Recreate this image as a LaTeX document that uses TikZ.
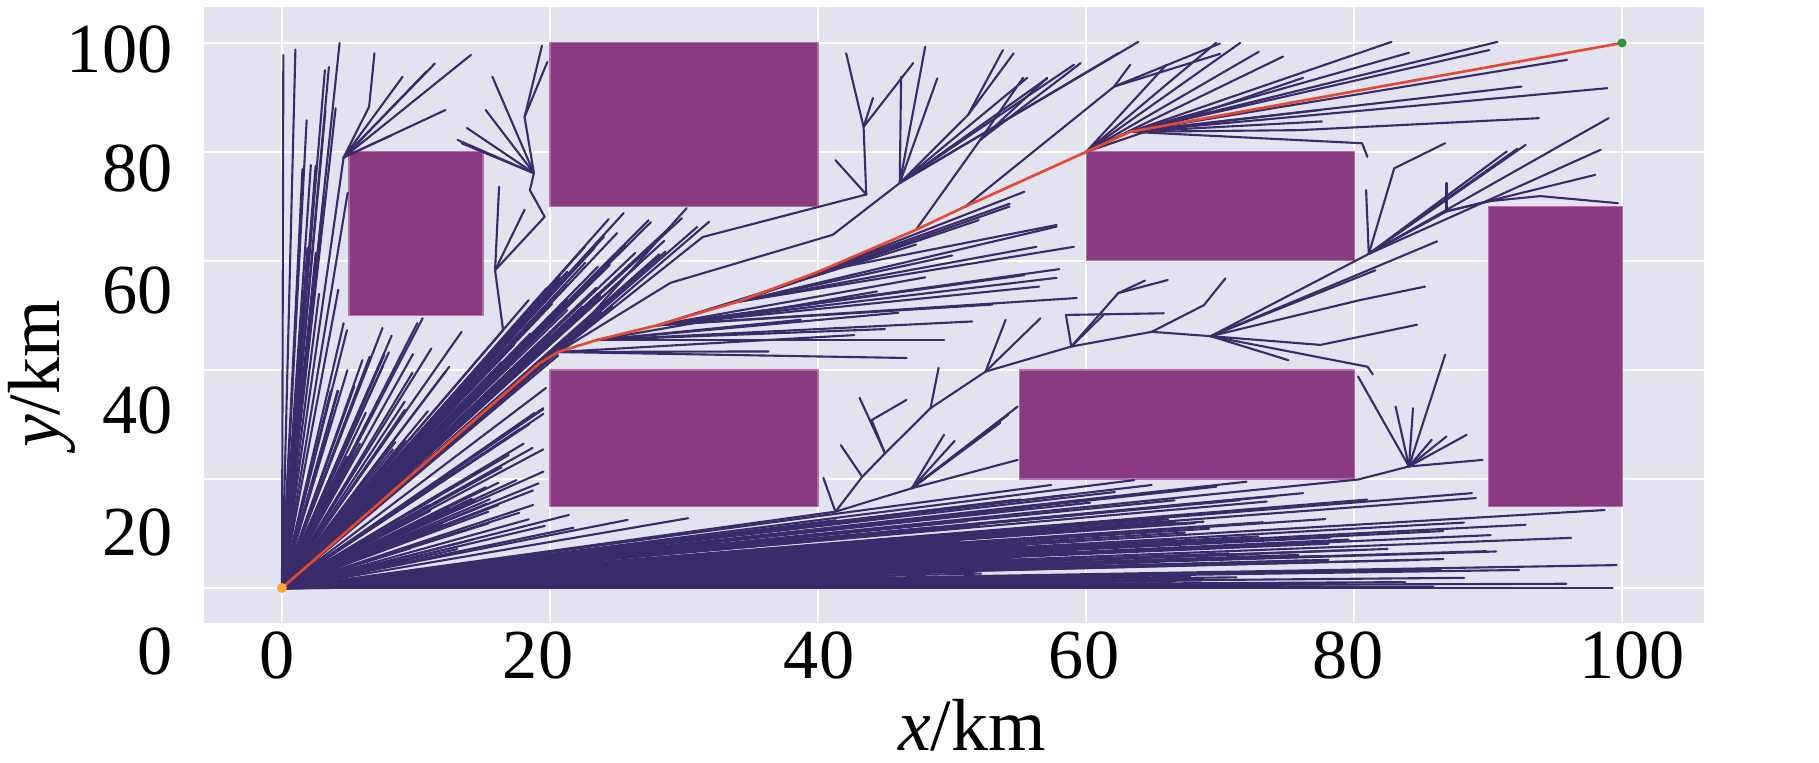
\documentclass[tikz,border=0pt]{standalone}
\usepackage{fontspec}
\setmainfont{Liberation Serif}
\definecolor{plotbg}{RGB}{226,227,238}
\definecolor{obstacle}{RGB}{138,56,128}
\definecolor{obstedge}{RGB}{176,112,168}
\definecolor{treeline}{RGB}{58,44,106}
\definecolor{pathred}{RGB}{228,74,50}
\definecolor{startor}{RGB}{250,165,60}
\definecolor{goalgr}{RGB}{50,150,60}
\begin{document}
\begin{tikzpicture}[line join=round, line cap=round,
	twig/.style={treeline, line width=0.6pt},
	route/.style={pathred, line width=0.75pt},
	grid line/.style={white, line width=0.75pt},
	block/.style={fill=obstacle, draw=obstedge, line width=0.3pt},
	ticklab/.style={font=\fontsize{20}{24}\selectfont, inner sep=0pt},
	axlabel/.style={font=\fontsize{21}{25}\selectfont, inner sep=0pt}]
	\useasboundingbox (0,0) rectangle (18.19,7.62);
	\begin{scope}[shift={(2.82cm,1.74cm)}, x=0.134cm, y=0.0545cm]
		\fill[plotbg] (-5.82,-6.42) rectangle (106.1,106.6);
		\foreach \g in {0,20,...,100}{
			\draw[grid line] (\g,-6.42) -- (\g,106.6);
			\draw[grid line] (-5.82,\g) -- (106.1,\g);
		}
		% obstacles
		\draw[block] (5,50) rectangle (15,80);
		\draw[block] (20,70) rectangle (40,100);
		\draw[block] (60,60) rectangle (80,80);
		\draw[block] (90,15) rectangle (100,70);
		\draw[block] (20,15) rectangle (40,40);
		\draw[block] (55,20) rectangle (80,40);
		\coordinate (root) at (0,0);
		\coordinate (goal) at (100,100);
		% random tree around the start
		\pgfmathsetseed{2024}
		\foreach \i in {1,...,140}{
			\pgfmathsetmacro\fu{rnd}
			\pgfmathsetmacro\fv{rnd}
			\pgfmathsetmacro\fr{0.30*(\fu+0.001)^1.5+0.001}
			\pgfmathsetmacro\fl{min(30+68*\fv*(1-0.3*\fu),19.5/\fr)}
			\pgfmathsetmacro\fl{\fl>89 ? max(89,min(\fl,14.8/\fr)) : \fl}
			\draw[twig] (root) -- (\fl,\fr*\fl);
		}
		\foreach \i in {1,...,40}{
			\pgfmathsetmacro\fu{rnd}
			\pgfmathsetmacro\fv{rnd}
			\pgfmathsetmacro\fr{0.42+1.4*\fu}
			\pgfmathsetmacro\fx{min(9+13*\fv,max(19.5,14.8/\fr))}
			\draw[twig] (root) -- (\fx,\fr*\fx);
		}
		\foreach \i in {1,...,60}{
			\pgfmathsetmacro\fu{rnd}
			\pgfmathsetmacro\fv{rnd}
			\pgfmathsetmacro\fr{2.05+0.75*(\fu+0.001)^0.7}
			\pgfmathsetmacro\fy{40+28*\fv}
			\draw[twig] (root) -- (\fy/\fr,\fy);
		}
		\foreach \i in {1,...,35}{
			\pgfmathsetmacro\fu{rnd}
			\pgfmathsetmacro\fv{rnd}
			\draw[twig] (root) -- (2.5+10*\fu,22+27*\fv);
		}
		\foreach \i in {1,...,9}{
			\pgfmathsetmacro\fu{rnd}
			\pgfmathsetmacro\fv{rnd}
			\draw[twig] (root) -- (1.5+3.2*\fu,52+40*\fv);
		}
		\foreach \a/\b in {0.1/97.8, 1.0/98.8, 3.2/95, 3.5/95.6, 4.3/100, 4.0/88, 4.9/72.5, 4.6/48.6, 4.2/54.7, 6.0/41.8, 7.5/47.7, 10.5/49.5, 10.1/48.6, 13.4/47, 12.2/39.7, 19.7/36.7, 18.7/25.7, 17.5/19.8, 17.7/13.8, 21.4/13.4, 15.4/14, 25.8/12.5, 30.3/12.8, 9/5.1, 25.5/68.8, 25/65.1, 22.6/62.6, 18.4/52.8, 21.3/51, 28.6/61.7, 57.4/18.9, 63.6/19.8, 64.9/18.9, 76.2/17.4, 89.1/16.5, 88.8/17.4, 98.7/14.3, 92.8/11.6, 96.2/9.2, 90.6/6.7, 99.6/4.2, 99.3/0, 88.2/12, 90.2/9.7}
			\draw[twig] (root) -- (\a,\b);
		% star below the right block
		\coordinate (T) at (80.3,19.9);
		\coordinate (S) at (84.1,22.3);
		\draw[twig] (root) -- (T) -- (S) -- (89.6,23.5);
		\foreach \a/\b in {80.3/38.8, 83.1/33.3, 84.4/33, 86.8/42.8, 85.8/27.2, 86.9/27.8, 88.4/28.1}
			\draw[twig] (S) -- (\a,\b);
		% top left
		\coordinate (N1) at (4.6,79);
		\draw[twig] (root) -- (N1);
		\foreach \a/\b in {14.1/97.8, 10.8/94.8, 9/93.8, 12.2/87.7, 8.2/83.1, 11.4/96.2}
			\draw[twig] (N1) -- (\a,\b);
		\draw[twig] (N1) -- (6.5,88.3) -- (6.9,98.1);
		\coordinate (Z0) at (16.5,47.3);
		\draw[twig] (root) -- (Z0) -- (15.9,58.3) coordinate (Z1) -- (19.6,68.1) -- (18.5,73) -- (18.8,76.1) coordinate (Z4) -- (18.1,86.4) coordinate (Z5) -- (19.4,99.5);
		\draw[twig] (Z1) -- (16.2,73.6);
		\draw[twig] (Z1) -- (18.1,69.4);
		\foreach \a/\b in {13.1/82.2, 13.4/81.6, 13.8/84.4, 15.2/87.7, 15.7/93.8}
			\draw[twig] (Z4) -- (\a,\b);
		\draw[twig] (Z5) -- (19.8,96.5);
		% nodes of the path
		\coordinate (P1) at (19.2,41.2);
		\coordinate (P2) at (20.6,43.3);
		\coordinate (P3) at (23.5,45.5);
		\coordinate (P4) at (28,48.2);
		\coordinate (P5) at (34,52.5);
		\coordinate (P6) at (40,58);
		\coordinate (P7) at (47.3,65.7);
		\coordinate (P8) at (51,70);
		\coordinate (P9) at (60,80);
		\coordinate (P10) at (63.3,83.7);
		\foreach \a/\b in {36.3/43.4, 46.6/42.2, 42.7/46.4, 30.2/69.7}
			\draw[twig] (P2) -- (\a,\b);
		\draw[twig] (P2) -- (31.4,64.4) -- (43.6,72.2) coordinate (Q);
		\draw[twig] (P2) -- (29,56) -- (41.1,64.8) coordinate (K1) -- (46.1,74.3) coordinate (K2);
		\foreach \a/\b in {38.7/49.2, 49.4/45.5, 51.5/48.9, 44.4/54.4, 45/47.5, 46/50.5}
			\draw[twig] (P3) -- (\a,\b);
		\foreach \a/\b in {57.8/56.9, 55.4/57.4, 59.3/53.2, 56.5/55.3, 53/52, 48/57, 58/58.5, 50.5/55.8, 47.3/63}
			\draw[twig] (P4) -- (\a,\b);
		\foreach \a/\b in {59.1/62.6, 57.8/66.3, 56.3/62.6, 52/67.5, 50/61, 54.3/70}
			\draw[twig] (P5) -- (\a,\b);
		\foreach \a/\b in {55.4/72.7, 57.8/66.6, 54.3/70.5}
			\draw[twig] (P6) -- (\a,\b);
		\draw[twig] (Q) -- (43.4,84.6) coordinate (Q1) -- (42.1,98.1);
		\foreach \a/\b in {44.1/89.9, 47.1/96.3}
			\draw[twig] (Q1) -- (\a,\b);
		\draw[twig] (Q) -- (41.3,78.5);
		\foreach \a/\b in {48.9/93.5, 46.2/93.8, 55.6/93.6, 57.1/93.5, 59.1/96, 62.4/98.1, 63.9/100.2, 48/99.3}
			\draw[twig] (K2) -- (\a,\b);
		\draw[twig] (K2) -- (51.2,86.8) coordinate (K3) -- (53.8,98.7);
		\draw[twig] (K3) -- (54.6,98.1);
		\draw[twig] (P7) -- (52.1,82.2) coordinate (K4);
		\foreach \a/\b in {55.3/93.6, 57.1/93.6, 59.6/96.3}
			\draw[twig] (K4) -- (\a,\b);
		\draw[twig] (P8) -- (62.1,92) coordinate (K5);
		\foreach \a/\b in {70/99.9, 70/98, 63.3/96}
			\draw[twig] (K5) -- (\a,\b);
		\foreach \a/\b in {69.7/100, 71.5/100, 72.9/98.4, 74.7/97.5, 76.2/93.6, 66/96}
			\draw[twig] (P9) -- (\a,\b);
		\foreach \a/\b in {82.8/100.2, 90.7/100.2, 90.1/98.7, 95.9/96.9, 98.9/91.7, 92.5/92, 77.5/87.7, 77.6/85.6, 84.1/98.2}
			\draw[twig] (P10) -- (\a,\b);
		\draw[twig] (P10) -- (75.9,84) -- (93.8,86.2);
		\draw[twig] (P10) -- (80.6,81.6) -- (81,79.1);
		% middle branch
		\coordinate (M0) at (41.3,14);
		\draw[twig] (root) -- (M0) -- (43.3,20.4) coordinate (Sp1) -- (45,24.7) coordinate (Sp2) -- (48.4,33) coordinate (Sp3) -- (52.5,39.7) coordinate (Sp4) -- (58.9,44.3) coordinate (Sp5) -- (64.9,47) coordinate (Sp6) -- (69.3,46.2) coordinate (Sp7);
		\draw[twig] (M0) -- (40.4,20.2);
		\draw[twig] (Sp1) -- (41.7,26.2);
		\draw[twig] (Sp2) -- (43.1,34.9);
		\draw[twig] (Sp2) -- (44,30.8) -- (46.6,34.5);
		\draw[twig] (Sp3) -- (49,40.4);
		\draw[twig] (Sp4) -- (54,49.2);
		\draw[twig] (Sp4) -- (56.6,49.5);
		\draw[twig] (Sp5) -- (58.5,50.1) -- (65.8,50.4);
		\draw[twig] (Sp5) -- (61.3,50.1);
		\draw[twig] (Sp5) -- (62.4,54.1) coordinate (Sp8) -- (66.1,56.5);
		\draw[twig] (Sp8) -- (64.4,56.4);
		\draw[twig] (Sp6) -- (68.8,51.9) -- (70.4,56.8);
		\coordinate (N2) at (47,18.3);
		\draw[twig] (M0) -- (N2);
		\foreach \a/\b in {49.4/28.1, 54.9/33.3, 54.9/23.5, 53.6/30.3, 52.8/29.2, 54.2/31.8, 50.2/27}
			\draw[twig] (N2) -- (\a,\b);
		\coordinate (R0) at (81.1,61.3);
		\draw[twig] (Sp7) -- (R0);
		\draw[twig] (Sp7) -- (80.4,52.8) -- (85.3,55.3);
		\draw[twig] (Sp7) -- (81.6,58.3);
		\draw[twig] (Sp7) -- (86.2,63.6);
		\draw[twig] (Sp7) -- (77.5,44.6) -- (84.7,48.3);
		\draw[twig] (Sp7) -- (75.1,41.8);
		\draw[twig] (Sp7) -- (81,40.6) -- (81.4,39.2);
		% right of the upper middle block
		\draw[twig] (R0) -- (80.9,73);
		\draw[twig] (R0) -- (83,77) -- (86.8,81.6);
		\foreach \a/\b in {92.8/81.3, 92.2/80.6, 91.4/80.1, 99/86.2, 98.4/80.4}
			\draw[twig] (R0) -- (\a,\b);
		\draw[twig] (R0) -- (86.9,69.1) coordinate (R1) -- (90.2,71) -- (93.9,71.9) -- (99.7,70.6);
		\draw[twig] (R1) -- (86.9,74.3);
		\draw[twig] (R1) -- (98,75.8);
		% path found
		\draw[route] (root) -- (P1) -- (P2) -- (P3) -- (P4) -- (P5) -- (P6) -- (P7) -- (P8) -- (P9) -- (P10) -- (goal);
		\fill[startor] (root) circle[radius=1.4pt];
		\fill[goalgr] (goal) circle[radius=1.3pt];
	\end{scope}
	\foreach \t/\xx in {0/2.77, 20/5.38, 40/8.19, 60/10.84, 80/13.48, 100/16.32}
		\node[ticklab] (xt\t) at (\xx,1.07) {\t};
	\foreach \t/\yy in {100/7.13, 80/5.94, 60/4.72, 40/3.52, 20/2.30, 0/1.11}
		\node[ticklab, anchor=east] (yt\t) at (1.73,\yy) {\t};
	\node[axlabel, anchor=base] (xlab) at (9.72,0.12) {\textit{x}/km};
	\node[axlabel, anchor=base, rotate=90] (ylab) at (0.59,3.88) {\textit{y}/km};
\end{tikzpicture}
\end{document}
